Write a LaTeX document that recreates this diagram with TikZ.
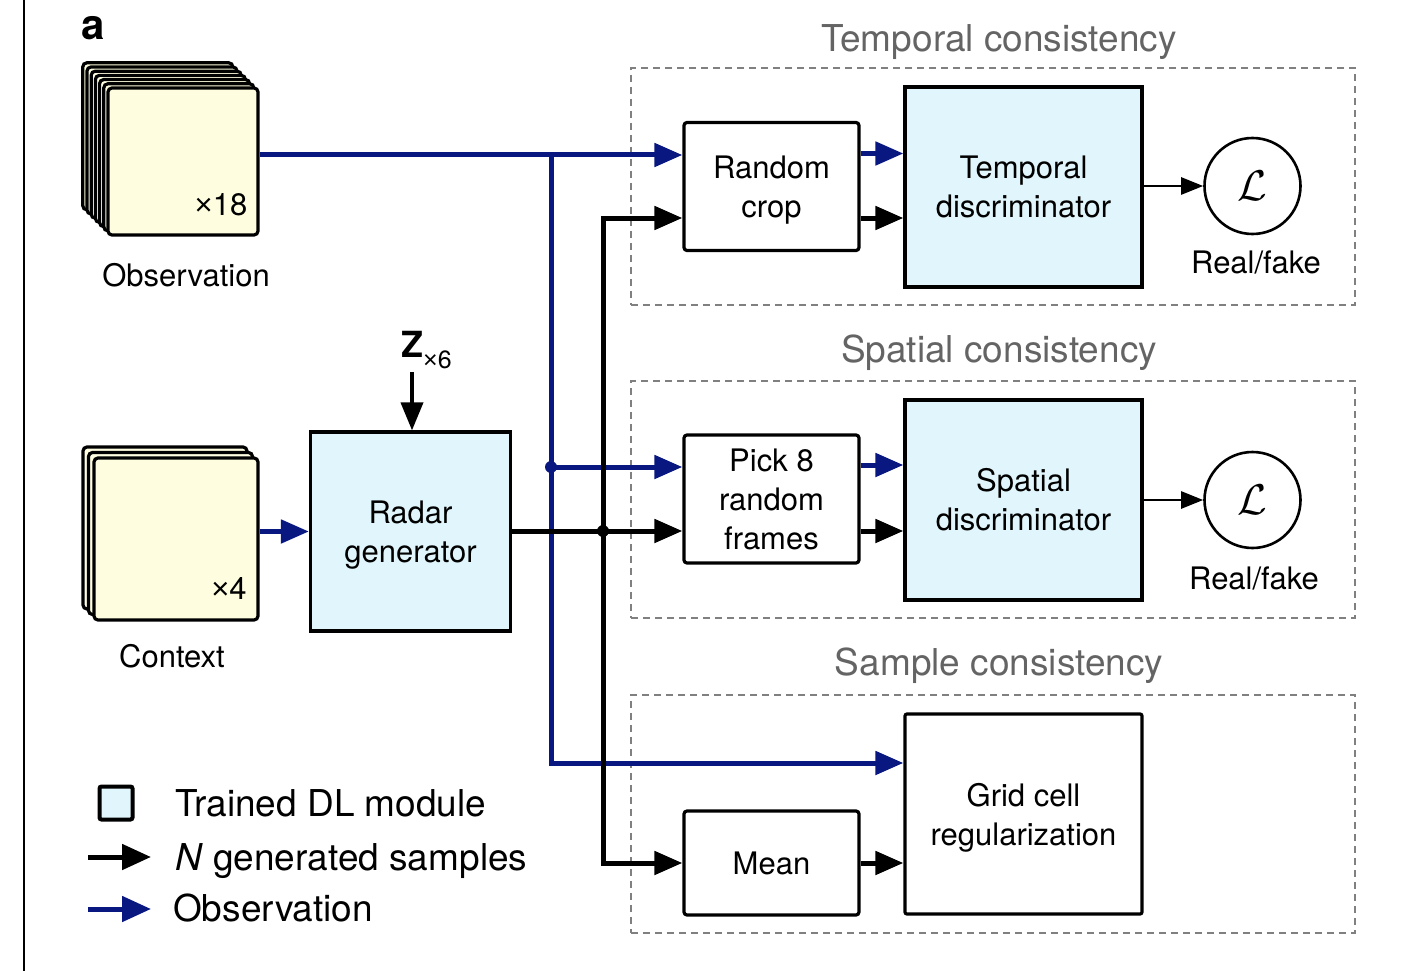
\documentclass[tikz,border=0pt]{standalone}
\usepackage{fontspec}
\setmainfont{TeX Gyre Heros}
\newfontfamily\timesfont{Liberation Sans}
\usetikzlibrary{arrows.meta,calc}
\definecolor{obsblue}{RGB}{8,24,128}
\definecolor{cyanfill}{RGB}{225,246,252}
\definecolor{yelfill}{RGB}{254,253,224}
\definecolor{titlegray}{RGB}{100,100,100}
\definecolor{dashgray}{RGB}{128,128,128}
\tikzset{
  mainfont/.style={font=\fontsize{31}{39}\selectfont},
  legfont/.style={font=\fontsize{37}{44}\selectfont},
  procbox/.style={draw=black, line width=3.2pt, rounded corners=3pt, fill=white, align=center, inner sep=0pt, mainfont},
  dlbox/.style={draw=black, line width=3.2pt, fill=cyanfill, align=center, inner sep=0pt, mainfont},
  framebox/.style={draw=black, line width=3.2pt, rounded corners=4pt, fill=yelfill, inner sep=0pt},
  groupbox/.style={draw=dashgray, line width=1.5pt, dash pattern=on 7pt off 5pt, inner sep=0pt},
  grouptitle/.style={text=titlegray, font=\fontsize{37}{44}\selectfont, anchor=base},
  obsline/.style={draw=obsblue, line width=5pt},
  genline/.style={draw=black, line width=5pt},
  obsarrow/.style={obsline, -{Triangle[length=28pt,width=23pt]}},
  genarrow/.style={genline, -{Triangle[length=28pt,width=23pt]}},
  lossarrow/.style={draw=black, line width=2.6pt, -{Triangle[length=22pt,width=17pt]}},
  lossnode/.style={circle, draw=black, line width=2.6pt, minimum size=96pt, inner sep=0pt},
  junction/.style={circle, inner sep=0pt, minimum size=12pt},
}
\newcommand{\lossglyph}{\scalebox{4.3}{$\mathcal{L}$}}
\newcommand{\tms}{{\timesfont ×}}
\begin{document}
\begin{tikzpicture}[x=1pt,y=-1pt]
\useasboundingbox (0,0) rectangle (1409,971);
% left rule
\draw[line width=2pt] (24,0) -- (24,971);
% panel label
\node[font=\bfseries\fontsize{42}{42}\selectfont, anchor=base] (lbla) at (93,40) {a};

% group frames and titles
\node[groupbox, minimum width=724pt, minimum height=237pt] (tgrp) at (993,186.5) {};
\node[groupbox, minimum width=724pt, minimum height=237pt] (sgrp) at (993,499.5) {};
\node[groupbox, minimum width=724pt, minimum height=238pt] (mgrp) at (993,814) {};
\node[grouptitle] (ttitle) at (999,52) {Temporal consistency};
\node[grouptitle] (stitle) at (999,362) {Spatial consistency};
\node[grouptitle] (mtitle) at (999,675) {Sample consistency};

% observation stack (7 frames)
\foreach \k in {6,5,4,3,2,1} {
  \node[framebox, minimum width=150pt, minimum height=147pt] (obs\k) at ({183-4.2*\k},{161.5-4.2*\k}) {};
}
\node[framebox, minimum width=150pt, minimum height=147pt] (obs) at (183,161.5) {};
\node[mainfont] (x18) at (221,205) {\tms18};
\node[mainfont, anchor=base] (obslab) at (186,286) {Observation};

% context stack (3 frames)
\foreach \k in {2,1} {
  \node[framebox, minimum width=164pt, minimum height=162pt] (ctx\k) at ({176-5.5*\k},{539-5.5*\k}) {};
}
\node[framebox, minimum width=164pt, minimum height=162pt] (ctx) at (176,539) {};
\node[mainfont] (x4) at (229,589) {\tms4};
\node[mainfont, anchor=base] (ctxlab) at (172,667) {Context};

% generator and noise
\node[dlbox, minimum width=200pt, minimum height=199pt] (rg) at (410.5,531.5) {Radar\\\smash{generator}};
\node[anchor=base west, inner sep=0pt] (z) at (401,357) {\fontsize{36}{36}\bfseries Z\raisebox{-11pt}{\fontsize{25}{25}\mdseries\selectfont \tms6}};
\coordinate (ztail) at (412,372);

% processing boxes
\node[procbox, minimum width=175pt, minimum height=128pt] (rc) at (771.5,186.5) {Random\\\smash{crop}};
\node[procbox, minimum width=175pt, minimum height=128pt] (pk) at (771.5,499) {Pick 8\\random\\frames};
\node[procbox, minimum width=175pt, minimum height=104pt] (mn) at (771.5,863) {Mean};
\node[dlbox, minimum width=237pt, minimum height=200pt] (td) at (1023.5,187) {Temporal\\discriminator};
\node[dlbox, minimum width=237pt, minimum height=200pt] (sd) at (1023.5,500) {Spatial\\discriminator};
\node[procbox, rounded corners=2pt, minimum width=237pt, minimum height=200pt] (gr) at (1023.5,814) {Grid cell\\\smash{regularization}};

% losses
\node[lossnode] (L1) at (1252.5,186) {\lossglyph};
\node[lossnode] (L2) at (1252.5,500) {\lossglyph};
\node[mainfont, anchor=base] (rf1) at (1256,273) {Real/fake};
\node[mainfont, anchor=base] (rf2) at (1254,589) {Real/fake};

% helper coordinates
\coordinate (rcbin) at ([yshift=31.5pt]rc.west);
\coordinate (rckin) at ([yshift=-31.5pt]rc.west);
\coordinate (rcbo) at ([yshift=33pt]rc.east);
\coordinate (rcko) at ([yshift=-31.5pt]rc.east);
\coordinate (pkbin) at ([yshift=32pt]pk.west);
\coordinate (pkkin) at ([yshift=-32pt]pk.west);
\coordinate (pkbo) at ([yshift=34pt]pk.east);
\coordinate (pkko) at ([yshift=-32pt]pk.east);
\coordinate (grbin) at ([yshift=51pt]gr.west);
\coordinate (obsout) at ([yshift=6.5pt]obs.east);
\coordinate (bsplit) at (551,155);

% observation (blue) connectors
\draw[obsarrow] (obsout) -- (rcbin);
\draw[obsarrow] (bsplit) |- (grbin);
\node[junction, fill=obsblue] (bdot) at (bsplit |- pkbin) {};
\draw[obsarrow] (bdot.center) -- (pkbin);
\draw[obsarrow] (rcbo) -- (rcbo -| td.west);
\draw[obsarrow] (pkbo) -- (pkbo -| sd.west);
\draw[obsarrow] (ctx.east |- rg.west) -- (rg.west);

% generated samples (black) connectors
\draw[genarrow] (rg.east |- pkkin) -- (pkkin);
\node[junction, fill=black] (kdot) at (603,531) {};
\draw[genarrow] (kdot.center) |- (rckin);
\draw[genarrow] (kdot.center) |- (mn.west);
\draw[genarrow] (rcko) -- (rcko -| td.west);
\draw[genarrow] (pkko) -- (pkko -| sd.west);
\draw[genarrow] (mn.east) -- (mn.east -| gr.west);
\draw[draw=black, line width=3.8pt, -{Triangle[length=28pt,width=22pt]}] (ztail) -- (ztail |- rg.north);

% loss arrows
\draw[lossarrow] (td.east |- L1.west) -- (L1.west);
\draw[lossarrow] (sd.east |- L2.west) -- (L2.west);

% legend
\node[draw=black, line width=4pt, rounded corners=2pt, fill=cyanfill, minimum size=33pt, inner sep=0pt] (legbox) at (116,803) {};
\node[legfont, anchor=base west, inner sep=0pt] (leg1) at (175,816) {Trained DL module};
\node[legfont, anchor=base west, inner sep=0pt] (leg2) at (175,870) {\textit{N} generated samples};
\node[legfont, anchor=base west, inner sep=0pt] (leg3) at (173,921) {Observation};
\coordinate (lg2s) at (88,857);
\coordinate (lg2e) at (151,857);
\coordinate (lg3s) at (88,909);
\coordinate (lg3e) at (151,909);
\draw[genline, -{Triangle[length=29pt,width=25pt]}] (lg2s) -- (lg2e);
\draw[obsline, -{Triangle[length=29pt,width=25pt]}] (lg3s) -- (lg3e);
\end{tikzpicture}
\end{document}
